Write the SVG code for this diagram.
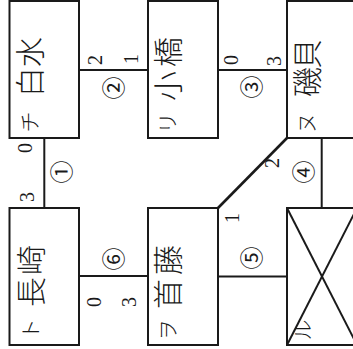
<svg xmlns="http://www.w3.org/2000/svg" width="353" height="349" viewBox="0 0 353 349">
<style>
.box{fill:#fff;stroke:#1a1a1a;stroke-width:2}
.ln{stroke:#1a1a1a;stroke-width:2;fill:none}
.k{font-family:"Noto Sans CJK JP","Noto Sans CJK SC",sans-serif;font-size:30px;font-weight:300;fill:#1a1a1a;text-anchor:middle;dominant-baseline:central}
.kana{font-size:21px}
.d{font-family:"Liberation Serif",serif;font-size:20px;fill:#1a1a1a;text-anchor:middle;dominant-baseline:central}
.c{font-family:"Noto Sans CJK JP",sans-serif;font-size:23px;fill:#1a1a1a;text-anchor:middle;dominant-baseline:central}
</style>
<rect width="353" height="349" fill="#fff"/>
<g id="connectors">
<line class="ln" x1="44.3" y1="138" x2="44.3" y2="208"/>
<line class="ln" x1="79" y1="70" x2="148" y2="70"/>
<line class="ln" x1="218" y1="70" x2="287" y2="70"/>
<line class="ln" x1="321.7" y1="138" x2="321.7" y2="208"/>
<line class="ln" x1="287" y1="138" x2="218" y2="208" style="stroke-width:2.6"/>
<line class="ln" x1="218" y1="276.5" x2="287" y2="276.5"/>
<line class="ln" x1="79" y1="276" x2="148" y2="276"/>
<text class="d" transform="translate(25,148) rotate(-90)">0</text>
<text class="d" transform="translate(27,197) rotate(-90)">3</text>
<text class="c" transform="translate(60,172) rotate(-90)">①</text>
<text class="d" transform="translate(95,60) rotate(-90)">2</text>
<text class="d" transform="translate(131,59) rotate(-90)">1</text>
<text class="c" transform="translate(112,88) rotate(-90)">②</text>
<text class="d" transform="translate(231,60) rotate(-90)">0</text>
<text class="d" transform="translate(274,61) rotate(-90)">3</text>
<text class="c" transform="translate(250,87) rotate(-90)">③</text>
<text class="c" transform="translate(302,172) rotate(-90)">④</text>
<text class="d" transform="translate(272,163) rotate(-90)">2</text>
<text class="d" transform="translate(232,218) rotate(-90)">1</text>
<text class="c" transform="translate(250,258) rotate(-90)">⑤</text>
<text class="c" transform="translate(112,259) rotate(-90)">⑥</text>
<text class="d" transform="translate(94,302) rotate(-90)">0</text>
<text class="d" transform="translate(129,302) rotate(-90)">3</text>
</g>
<g id="node-shiramizu">
<rect class="box" x="9.5" y="1" width="69.5" height="137"/>
<text class="k" transform="translate(28,0) rotate(-90)"><tspan class="kana" x="-122" y="0">チ</tspan><tspan x="-82" y="0">白</tspan><tspan x="-52" y="0">水</tspan></text>
</g>
<g id="node-kobashi">
<rect class="box" x="148" y="1" width="70" height="137"/>
<text class="k" transform="translate(166,0) rotate(-90)"><tspan class="kana" x="-123" y="0">リ</tspan><tspan x="-86" y="0">小</tspan><tspan x="-52" y="0">橋</tspan></text>
</g>
<g id="node-isogai">
<rect class="box" x="287" y="1" width="70" height="137"/>
<text class="k" transform="translate(305,0) rotate(-90)"><tspan class="kana" x="-123" y="0">ヌ</tspan><tspan x="-82" y="0">磯</tspan><tspan x="-54" y="0">貝</tspan></text>
</g>
<g id="node-nagasaki">
<rect class="box" x="9.5" y="208" width="69.5" height="137"/>
<text class="k" transform="translate(29,0) rotate(-90)"><tspan class="kana" x="-329" y="0">ト</tspan><tspan x="-292" y="0">長</tspan><tspan x="-260" y="0">崎</tspan></text>
</g>
<g id="node-shuto">
<rect class="box" x="148" y="208" width="70" height="137"/>
<text class="k" transform="translate(166,0) rotate(-90)"><tspan class="kana" x="-330" y="0">ヲ</tspan><tspan x="-294" y="0">首</tspan><tspan x="-260" y="0">藤</tspan></text>
</g>
<g id="node-ru">
<rect class="box" x="287" y="208" width="70" height="137"/>
<line class="ln" x1="287" y1="208" x2="357" y2="345"/>
<line class="ln" x1="287" y1="345" x2="357" y2="208"/>
<text class="k kana" transform="translate(301,330) rotate(-90)">ル</text>
</g>
</svg>
